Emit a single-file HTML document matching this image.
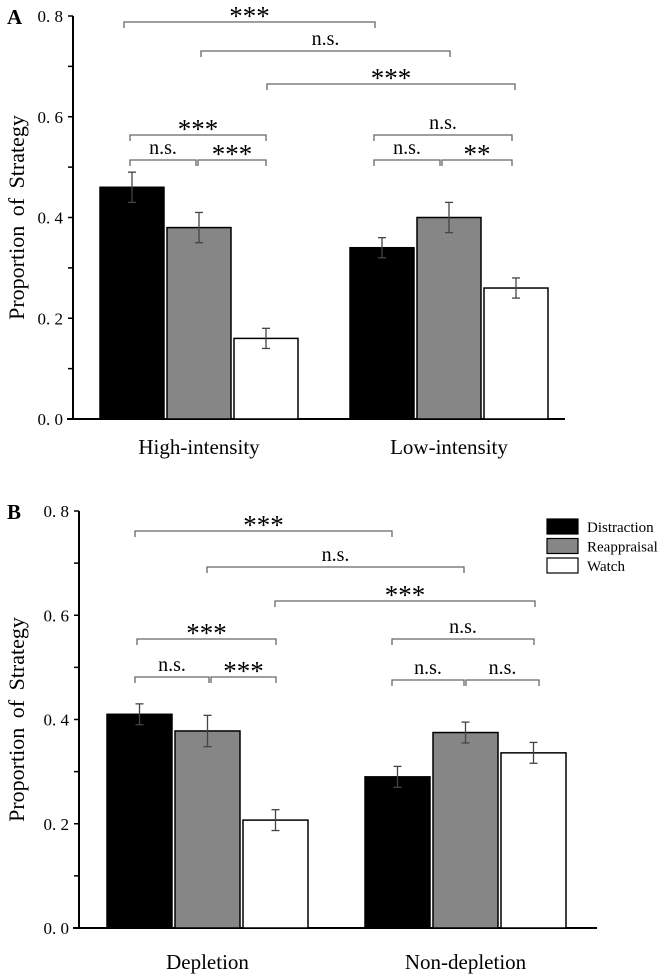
<!DOCTYPE html>
<html><head><meta charset="utf-8"><style>
body{margin:0;background:#fff;}
svg{display:block;font-family:"Liberation Serif",serif;}
</style></head><body>
<svg id="fig" width="661" height="974"></svg>
<script>
const groupsA=["High-intensity","Low-intensity"];
const valuesA=[[0.46,0.38,0.16],[0.34,0.40,0.26]];
const errorsA=[[0.03,0.03,0.02],[0.02,0.03,0.02]];
const groupsB=["Depletion","Non-depletion"];
const valuesB=[[0.41,0.378,0.207],[0.29,0.375,0.336]];
const errorsB=[[0.02,0.03,0.02],[0.02,0.02,0.02]];
const series=["Distraction","Reappraisal","Watch"];
const tickLabels=["0. 0","0. 2","0. 4","0. 6","0. 8"];
const sigA=["***","n.s.","***","***","n.s.","***","n.s.","n.s.","**"];
const sigB=["***","n.s.","***","***","n.s.","***","n.s.","n.s.","n.s."];
const fills=["#000","#868686","#fff"];
const NS="http://www.w3.org/2000/svg";
const svg=document.getElementById('fig');
function el(t,a,p){const e=document.createElementNS(NS,t);for(const k in a)e.setAttribute(k,a[k]);(p||svg).appendChild(e);return e;}
function panel(P){
 const g=el('g',{});
 
 
 const y=v=>P.y0-(v/0.8)*(P.y0-P.y8);
 const ax=el('line',{x1:P.ax,x2:P.ax,y1:P.y8,y2:P.y0,stroke:'#000','stroke-width':2},g);
 
 const xa=el('line',{x1:P.ax-6,x2:P.xr,y1:P.y0,y2:P.y0,stroke:'#000','stroke-width':2},g);
 
 for(let i=0;i<=8;i++){const v=i*0.1;el('line',{x1:P.ax-5,x2:P.ax,y1:y(v),y2:y(v),stroke:'#000','stroke-width':1.5},g);}
 tickLabels.forEach((t,i)=>{const tx=el('text',{x:P.ax-10,y:y(i*0.2)+6,'text-anchor':'end','font-size':17},g);tx.textContent=t;
  });
 const lt=el('text',{x:P.lx,y:P.y8+8,'font-size':21,'font-weight':'bold'},g);lt.textContent=P.id;
 
 const yc=(P.y0+P.y8)/2;
 const yt=el('text',{x:0,y:0,transform:`translate(${P.tx},${yc}) rotate(-90)`,'text-anchor':'middle','font-size':22,'word-spacing':4},g);
 yt.textContent='Proportion of Strategy';
 P.groups.forEach((gn,gi)=>{
  const cs=[];
  P.vals[gi].forEach((v,si)=>{
   const x=P.gx[gi]+si*(P.bw+3);
   const r=el('rect',{x:x,y:y(v),width:P.bw,height:P.y0-y(v),fill:fills[si],stroke:'#000','stroke-width':1.5},g);
   
   const cx=x+P.bw/2,e=P.errs[gi][si];cs.push(cx);
   const eg=el('g',{stroke:'#444','stroke-width':1.3},g);
   
   el('line',{x1:cx,x2:cx,y1:y(v+e),y2:y(v-e)},eg);
   el('line',{x1:cx-4,x2:cx+4,y1:y(v+e),y2:y(v+e)},eg);
   el('line',{x1:cx-4,x2:cx+4,y1:y(v-e),y2:y(v-e)},eg);
  });
  const xl=el('text',{x:(cs[0]+cs[2])/2,y:P.xly,'text-anchor':'middle','font-size':21},g);xl.textContent=gn;
  
 });
 P.br.forEach((b,i)=>{
  const bg=el('g',{},g);
  el('path',{d:`M${b[0]} ${b[2]+6}V${b[2]}H${b[1]}V${b[2]+6}`,fill:'none',stroke:'#666','stroke-width':1.3},bg);
  const s=P.sig[i];const star=s.includes('*');
  const t=el('text',{x:(b[0]+b[1])/2,y:b[2]+(star?3:-6),'text-anchor':'middle','font-size':star?27:20,'letter-spacing':star?0:0},bg);t.textContent=s;
 });
}
panel({id:'A',ax:73,xr:565,y0:419,y8:16,lx:7,tx:24,bw:64,gx:[100,350],groups:groupsA,vals:valuesA,errs:errorsA,xly:454,sig:sigA,
 br:[[124,375,22],[201,450,51],[267,515,84],[130,266,135],[130,196,160],[198,266,160],[374,512,135],[374,440,160],[442,512,160]]});
panel({id:'B',ax:79,xr:597,y0:928,y8:511,lx:7,tx:24,bw:65,gx:[107,365],groups:groupsB,vals:valuesB,errs:errorsB,xly:969,sig:sigB,
 br:[[135,392,531],[207,464,567],[275,535,601],[137,276,639],[135,209,677],[211,276,677],[392,534,639],[392,464,680],[466,539,680]]});
const lg=el('g',{});
series.forEach((s,i)=>{
 const e=el('g',{},lg);
 el('rect',{x:547,y:519+i*19.5,width:31,height:15,fill:fills[i],stroke:'#000','stroke-width':1.2},e);
 const t=el('text',{x:587,y:532+i*19.5,'font-size':15},e);t.textContent=s;
});
</script>
</body></html>
